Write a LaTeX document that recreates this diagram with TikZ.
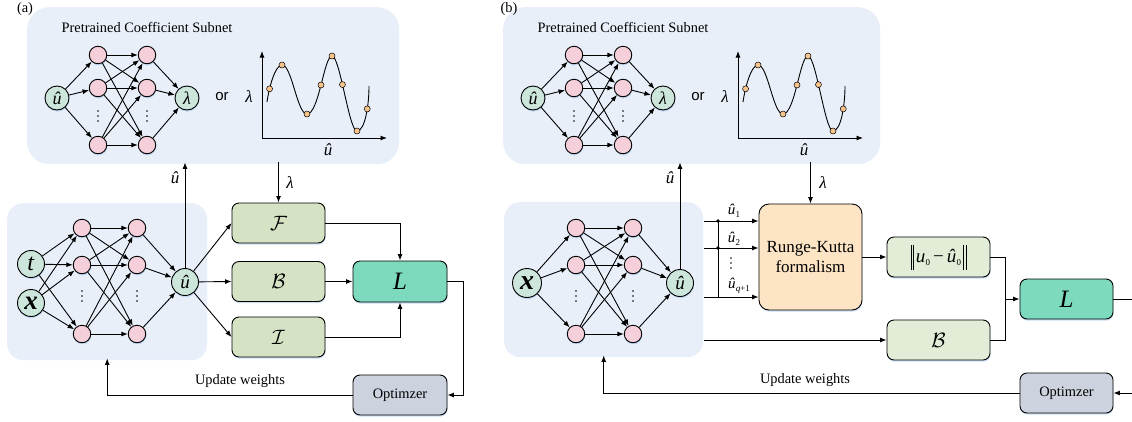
\documentclass[tikz,border=0pt]{standalone}
\usepackage{amsmath}
\usepackage{fontspec}
\setmainfont{Liberation Serif}
\newfontfamily\orfont{Liberation Sans}
\usetikzlibrary{arrows.meta,shadows,calc}

\definecolor{panelbg}{HTML}{E9EFF9}
\definecolor{glowblue}{HTML}{9CC3EC}
\definecolor{ioteal}{HTML}{CDE6DC}
\definecolor{hidpink}{HTML}{F5D0DA}
\definecolor{opgreen}{HTML}{D5E2C4}
\definecolor{opgreenlt}{HTML}{E2ECD7}
\definecolor{lossteal}{HTML}{7DDABE}
\definecolor{optgray}{HTML}{CDD3DE}
\definecolor{rkpeach}{HTML}{FCE4C4}
\definecolor{knotorange}{HTML}{F7C48C}

% italic letters set in the serif text face
\newcommand{\uhat}{\textit{û}}
\newcommand{\lam}{\textit{λ}}
\newcommand{\sub}[1]{\kern0.3pt\raisebox{-0.4ex}{\fontsize{9}{10}\selectfont #1}}
% double bar of a norm
\newcommand{\normbar}{\rule[-7pt]{0.6pt}{25pt}\kern1.8pt\rule[-7pt]{0.6pt}{25pt}}

\tikzset{
  lw/.style={line width=0.9pt},
  arr/.style={lw, -{Latex[length=6.5pt,width=5pt]}},
  glow/.style={drop shadow={shadow xshift=0.4pt, shadow yshift=-1.6pt, fill=glowblue, opacity=0.55}},
  panel/.style={fill=panelbg, rounded corners=22pt, anchor=north west, inner sep=0pt,
    drop shadow={shadow xshift=0pt, shadow yshift=-2pt, fill=glowblue, opacity=0.25}},
  hid/.style={circle, draw, lw, fill=hidpink, minimum size=17.5pt, inner sep=0pt, glow},
  io/.style={circle, draw, lw, fill=ioteal, minimum size=24pt, inner sep=0pt, glow,
    font=\fontsize{18}{20}\selectfont},
  blk/.style={rectangle, rounded corners=7pt, draw, lw, minimum width=93pt,
    minimum height=40pt, inner sep=0pt, glow},
  txt/.style={font=\fontsize{14.4}{17}\selectfont, inner sep=0pt},
  mth/.style={font=\fontsize{17}{19}\selectfont, inner sep=0pt},
  knot/.style={circle, draw, line width=0.5pt, fill=knotorange, minimum size=6pt, inner sep=0pt},
}

% three stacked dots between hidden units
\newcommand{\vdotsat}[2]{\foreach \d in {-5,0,5}{\fill (#1,#2+\d) circle (0.85pt);}}

% pretrained coefficient subnet: small network, "or", and a sampled curve
\newcommand{\coefnet}[2]{% #1 prefix, #2 panel width
  \node[panel, minimum width=#2pt, minimum height=155pt] (#1box) at (27,7) {};
  \node[txt] (#1title) at (147,27) {Pretrained Coefficient Subnet};
  \node[io] (#1in) at (57,98) {\uhat};
  \node[io] (#1out) at (187,98) {\lam};
  \foreach \r/\y in {1/55,2/88,3/145}{
    \node[hid] (#1a\r) at (98,\y) {};
    \node[hid] (#1b\r) at (147,\y) {};
  }
  \vdotsat{98}{116}
  \vdotsat{147}{116}
  \foreach \r in {1,2,3}{
    \draw[arr] (#1in) -- (#1a\r);
    \draw[arr] (#1b\r) -- (#1out);
    \foreach \s in {1,2,3}{\draw[arr] (#1a\r) -- (#1b\s);}
  }
  \node[font=\orfont\fontsize{15}{17}\selectfont, inner sep=0pt] (#1or) at (222,97) {or};
  \coordinate (#1org) at (262,138);
  \draw[arr] (#1org) -- (262,51);
  \draw[arr] (#1org) -- (387,138);
  \node[mth] (#1ylab) at (249,97) {\lam};
  \node[mth] (#1xlab) at (328,150) {\uhat};
  \draw[lw] (267,102) .. controls (269,88) and (275,65) .. (282,65)
      node[knot,pos=0.28] (#1k1) {} node[knot] (#1k2) {}
    .. controls (292,65) and (297,114) .. (307,114) node[knot] (#1k3) {}
    .. controls (319,114) and (324,56) .. (332,56)
      node[knot,pos=0.5] (#1k4) {} node[knot] (#1k5) {}
    .. controls (340,56) and (349,131) .. (357,131)
      node[knot,pos=0.42] (#1k6) {} node[knot] (#1k7) {}
    .. controls (365,131) and (369,105) .. (369,86)
      node[knot,pos=0.62] (#1k8) {};
}

% hidden layers of the trainable solution network
\newcommand{\hiddenlayers}[4]{% #1 prefix, #2 first x, #3 second x, #4 output node
  \foreach \r/\y in {1/228,2/265,3/334}{
    \node[hid] (#1a\r) at (#2,\y) {};
    \node[hid] (#1b\r) at (#3,\y) {};
  }
  \vdotsat{#2}{296}
  \vdotsat{#3}{296}
  \foreach \r in {1,2,3}{
    \draw[arr] (#1b\r) -- (#4);
    \foreach \s in {1,2,3}{\draw[arr] (#1a\r) -- (#1b\s);}
  }
}

\begin{document}
\begin{tikzpicture}[x=1pt,y=-1pt]
\useasboundingbox (0,0) rectangle (1132,421);

% ---------------- (a) ----------------
\begin{scope}
  \coefnet{p}{372}
\end{scope}

\node[panel, minimum width=200pt, minimum height=155pt, rounded corners=16pt] (anet) at (7,203) {};
\node[io, minimum size=27pt, font=\fontsize{24}{26}\selectfont] (at) at (31,264) {\textit{t}};
\node[io, minimum size=27pt, font=\fontsize{27}{29}\selectfont] (ax) at (31,303) {\textbf{\textit{x}}};
\node[io, minimum size=27pt, font=\fontsize{19}{21}\selectfont] (aout) at (185,282) {\uhat};
\hiddenlayers{an}{82}{137}{aout}
\foreach \r in {1,2,3}{
  \draw[arr] (at) -- (ana\r);
  \draw[arr] (ax) -- (ana\r);
}

\node[blk, fill=opgreen, font=\fontsize{21}{23}\selectfont] (aF) at (278.5,223) {$\mathcal{F}$};
\node[blk, fill=opgreen, font=\fontsize{21}{23}\selectfont] (aB) at (278.5,281.5) {$\mathcal{B}$};
\node[blk, fill=opgreen, font=\fontsize{21}{23}\selectfont] (aI) at (278.5,337) {$\mathcal{I}$};
\node[blk, fill=lossteal, minimum width=94pt, minimum height=41pt, font=\fontsize{25}{27}\selectfont] (aL) at (400,281.5) {\textit{L}};
\node[blk, fill=optgray, minimum width=94pt, font=\fontsize{14.4}{17}\selectfont] (aOpt) at (400,395) {Optimzer};

\draw[arr] (aout.north) -- (aout.north |- pbox.south);
\node[mth] (aulab) at (175,178) {\uhat};
\draw[arr] (aF.north |- pbox.south) -- (aF.north);
\node[mth] (allab) at (290,183) {\lam};

\draw[arr] (aout) -- (aF.west);
\draw[arr] (aout) -- (aB.west);
\draw[arr] (aout) -- (aI.west);
\draw[arr] (aF.east) -| (aL.north);
\draw[arr] (aI.east) -| (aL.south);
\draw[arr] (aB.east) -- (aL.west);
\coordinate (aturn) at (463,281.5);
\draw[arr] (aL.east) -- (aturn) |- (aOpt.east);
\draw[arr] (aOpt.west) -| (anet.south);
\node[txt] (aupd) at (240,381) {Update weights};

% ---------------- (b) ----------------
\begin{scope}[xshift=476]
  \coefnet{q}{377}
\end{scope}

\node[panel, minimum width=199pt, minimum height=153pt, rounded corners=16pt] (bnet) at (504,202) {};
\node[io, minimum size=29pt, font=\fontsize{28}{30}\selectfont] (bx) at (527,283) {\textbf{\textit{x}}};
\node[io, minimum size=27pt, font=\fontsize{19}{21}\selectfont] (bout) at (680,283) {\uhat};
\hiddenlayers{bn}{576}{633}{bout}
\foreach \r in {1,2,3}{\draw[arr] (bx) -- (bna\r);}

\draw[arr] (bout.north) -- (bout.north |- qbox.south);
\node[mth] (bulab) at (670,178) {\uhat};

\node[blk, fill=rkpeach, minimum width=103pt, minimum height=106pt, rounded corners=10pt,
      align=center, font=\fontsize{17}{20}\selectfont] (rk) at (810.5,257) {Runge-Kutta\\formalism};
\draw[arr] (rk.north |- qbox.south) -- (rk.north);
\node[mth] (bllab) at (823,183) {\lam};

% stage values fed to the Runge-Kutta step
\coordinate (s1) at (704,221);
\coordinate (s2) at (704,248);
\coordinate (s3) at (704,297);
\coordinate (j1) at (718,221);
\coordinate (j2) at (718,248);
\coordinate (j3) at (718,297);
\draw[arr] (s1) -- (rk.west |- s1);
\draw[arr] (s2) -- (rk.west |- s2);
\draw[arr] (s3) -- (rk.west |- s3);
\draw[lw] (j1) -- (j3);
\fill (j1) circle (1.9pt);
\fill (j2) circle (1.9pt);
\node[font=\fontsize{15}{17}\selectfont, inner sep=0pt] (u1) at (734,211) {\uhat\sub{1}};
\node[font=\fontsize{15}{17}\selectfont, inner sep=0pt] (u2) at (734,239) {\uhat\sub{2}};
\vdotsat{731}{263}
\node[font=\fontsize{15}{17}\selectfont, inner sep=0pt] (uq) at (739,286) {\uhat\sub{\textit{q}+1}};

\node[blk, fill=opgreenlt, minimum width=103pt, font=\fontsize{19}{21}\selectfont] (bN) at (938.5,257)
  {\normbar\kern2pt\textit{u}\sub{0}\kern3pt−\kern3pt\uhat\sub{0}\kern2pt\normbar};
\node[blk, fill=opgreenlt, minimum width=103pt, font=\fontsize{21}{23}\selectfont] (bB) at (938.5,340) {$\mathcal{B}$};
\node[blk, fill=lossteal, font=\fontsize{25}{27}\selectfont] (bL) at (1066.5,299) {\textit{L}};
\node[blk, fill=optgray, font=\fontsize{14.4}{17}\selectfont] (bOpt) at (1066.5,393) {Optimzer};

\coordinate (s4) at (704,340);
\draw[arr] (s4) -- (bB.west);
\draw[arr] (rk.east |- bN.west) -- (bN.west);
\coordinate (bjoin) at (1005,299);
\draw[lw] (bN.east) -| (bjoin);
\draw[lw] (bB.east) -| (bjoin);
\draw[arr] (bjoin) -- (bL.west);
\coordinate (bedgeL) at (1132,299);
\coordinate (bedgeO) at (1132,393);
\draw[lw] (bL.east) -- (bedgeL);
\draw[arr] (bedgeO) -- (bOpt.east);
\draw[arr] (bOpt.west) -| (bnet.south);
\node[txt] (bupd) at (805,380) {Update weights};

% panel tags
\node[txt] (alabel) at (25,9) {(a)};
\node[txt] (blabel) at (509,9) {(b)};
\end{tikzpicture}
\end{document}
